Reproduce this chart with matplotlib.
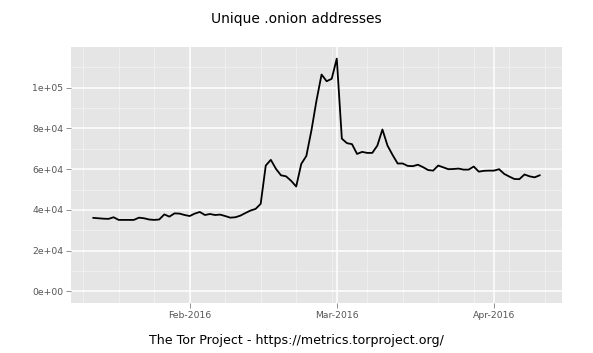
import numpy as np
import pandas as pd
import matplotlib
matplotlib.use("Agg")
import matplotlib.pyplot as plt
import matplotlib.dates as mdates

# daily unique .onion addresses, starting 2016-01-13
start_date = "2016-01-13"
onions = [36100, 35900, 35700, 35600, 36400, 35100, 35100, 35100, 35100, 36200,
          35900, 35300, 35100, 35300, 37800, 36700, 38300, 38200, 37500, 37000,
          38200, 39000, 37500, 38000, 37500, 37700, 37000, 36200, 36400, 37200,
          38500, 39700, 40500, 43000, 61800, 64600, 60200, 57000, 56500, 54300,
          51500, 62600, 66500, 79000, 93700, 106500, 103200, 104400, 114300, 75000,
          72800, 72300, 67500, 68500, 68000, 68000, 71600, 79500, 71600, 67000,
          62800, 62800, 61600, 61500, 62200, 61000, 59600, 59300, 61800, 60900,
          60000, 60100, 60300, 59800, 59800, 61300, 58800, 59200, 59300, 59300,
          60000, 57700, 56400, 55200, 55100, 57400, 56500, 56000, 57000]
y_ticks = [0, 20000, 40000, 60000, 80000, 100000]
y_labels = ["0e+00", "2e+04", "4e+04", "6e+04", "8e+04", "1e+05"]
x_ticks = ["2016-02-01", "2016-03-01", "2016-04-01"]
x_labels = ["Feb-2016", "Mar-2016", "Apr-2016"]

dates = pd.date_range(start_date, periods=len(onions))
x = mdates.date2num(dates)

fig = plt.figure(figsize=(5.93, 3.53), dpi=100)
ax = fig.add_axes([0.1197, 0.1416, 0.8280, 0.7253])
ax.set_facecolor("#E5E5E5")
for s in ax.spines.values():
    s.set_visible(False)

# ggplot-style expansion
xr = x.max() - x.min()
ax.set_xlim(x.min() - 0.05 * xr, x.max() + 0.05 * xr)
ymax = max(onions)
ax.set_ylim(-0.05 * ymax, 1.05 * ymax)

# minor grid: weekly mondays on x, midpoints on y
mondays = pd.date_range("2016-01-04", "2016-04-30", freq="W-MON")
for d in mdates.date2num(mondays):
    ax.axvline(d, color="#F2F2F2", lw=0.6, zorder=0)
for v in np.arange(10000, 120000, 20000):
    ax.axhline(v, color="#F2F2F2", lw=0.6, zorder=0)

xt = mdates.date2num(pd.to_datetime(x_ticks))
for d in xt:
    ax.axvline(d, color="white", lw=1.1, zorder=1)
for v in y_ticks:
    ax.axhline(v, color="white", lw=1.1, zorder=1)

ax.plot(x, onions, color="black", lw=1.3, zorder=3)

ax.set_xticks(xt)
ax.set_xticklabels(x_labels)
ax.set_yticks(y_ticks)
ax.set_yticklabels(y_labels)
ax.tick_params(axis="both", colors="#7F7F7F", labelsize=6.7, length=3.5,
               width=0.6, pad=2)
ax.tick_params(axis="both", labelcolor="#555555")

fig.text(0.5, 0.946, "Unique .onion addresses", ha="center", va="center",
         fontsize=10, color="black")
fig.text(0.5, 0.034, "The Tor Project - https://metrics.torproject.org/",
         ha="center", va="center", fontsize=9.1, color="black")

fig.savefig("out.png", dpi=100)
